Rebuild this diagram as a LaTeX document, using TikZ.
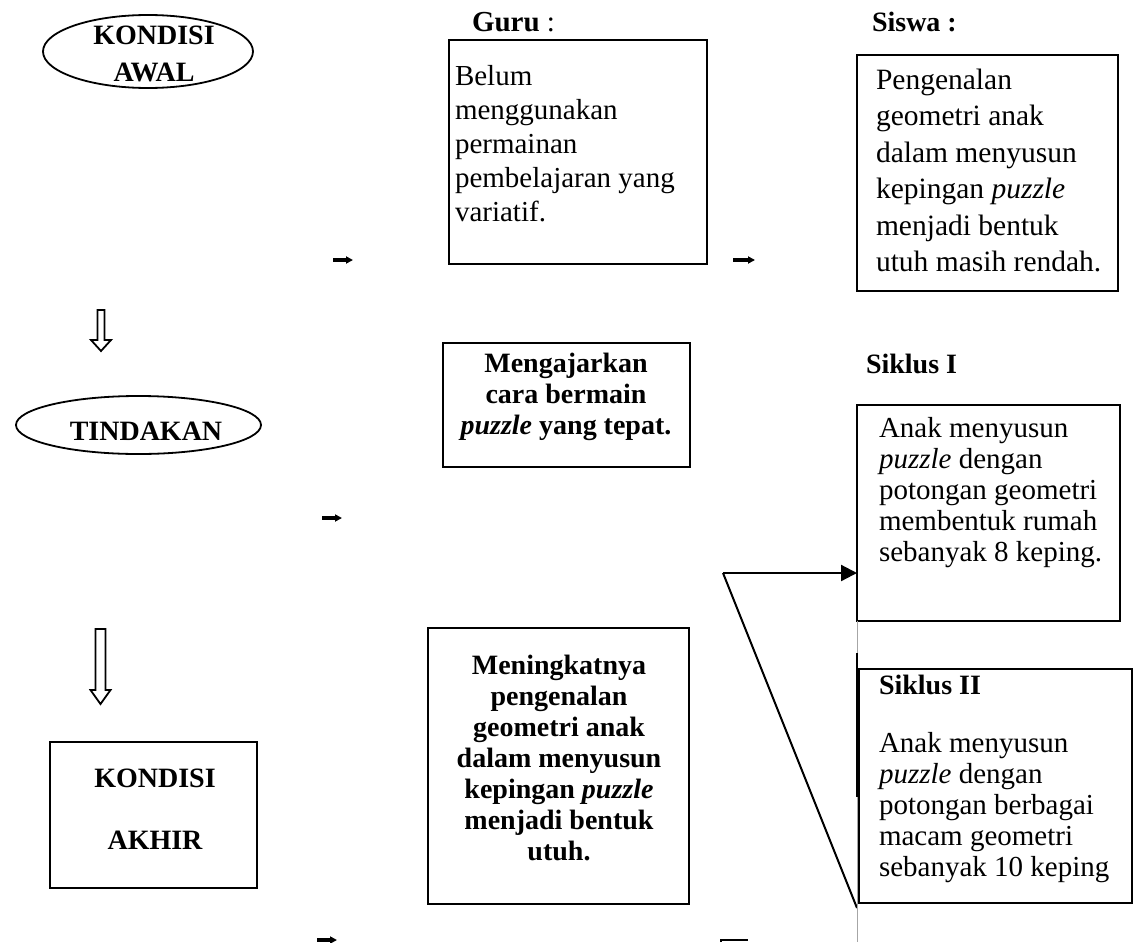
\documentclass[tikz,border=0pt]{standalone}
\usepackage{fontspec}
\setmainfont{Liberation Serif}
\usetikzlibrary{arrows.meta,shapes.geometric}
\begin{document}
\begin{tikzpicture}[x=1pt,y=-1pt,
  every node/.style={inner sep=0pt, outer sep=0pt},
  txt/.style={font=\fontsize{29}{31}\selectfont},
  gurufont/.style={font=\fontsize{29}{34}\selectfont},
  siswafont/.style={font=\fontsize{29.5}{36.5}\selectfont},
  lbl/.style={font=\fontsize{28}{31}\selectfont\bfseries},
  box/.style={draw, line width=1.8pt, rectangle},
  oval/.style={draw, line width=1.8pt, ellipse},
  smallarr/.style={line width=3.5pt, -{Triangle[length=7pt,width=7pt]}},
  hollow/.style={draw, line width=1.8pt, fill=white},
  link/.style={line width=2.2pt, -{Triangle[length=16pt,width=16pt]}}]
\useasboundingbox (0,0) rectangle (1139,942);

% ovals
\node[oval, minimum width=210pt, minimum height=73pt] (awal) at (148,51.5) {};
\node[lbl, align=center] (awaltxt) at (154,53.5) {KONDISI\\[6pt]AWAL};
\node[oval, minimum width=245pt, minimum height=58pt] (tindakan) at (138.5,425) {};
\node[lbl] (tindakantxt) at (146,431) {TINDAKAN};

% boxes
\node[box, minimum width=258pt, minimum height=224pt] (guru) at (578,152) {};
\node[box, minimum width=261pt, minimum height=236pt] (siswa) at (987.5,173) {};
\node[box, minimum width=247pt, minimum height=124pt] (ajar) at (566.5,405) {};
\node[box, minimum width=263pt, minimum height=216pt] (s1) at (988.5,513) {};
\node[box, minimum width=273pt, minimum height=234pt] (s2) at (995.5,786) {};
\node[box, minimum width=207pt, minimum height=146pt] (akhir) at (153.5,815) {};
\node[box, minimum width=261pt, minimum height=276pt] (naik) at (558.5,766) {};

% labels
\node[txt, anchor=west] (gurulbl) at (472,22) {\textbf{Guru} :};
\node[lbl, anchor=west] (siswalbl) at (872,22) {Siswa :};
\node[lbl, anchor=west] (s1lbl) at (866,364) {Siklus I};

% texts
\node[gurufont, anchor=north west, align=left] (gurutxt) at (455,65) {Belum\\menggunakan\\permainan\\pembelajaran yang\\variatif.};
\node[siswafont, anchor=north west, align=left] (siswatxt) at (876,69) {Pengenalan\\geometri anak\\dalam menyusun\\kepingan \textit{puzzle}\\menjadi bentuk\\utuh masih rendah.};
\node[lbl, anchor=north, align=center] (ajartxt) at (566,353) {Mengajarkan\\cara bermain\\\textit{puzzle} yang tepat.};
\node[txt, anchor=north west, align=left] (s1txt) at (879,417) {Anak menyusun\\\textit{puzzle} dengan\\potongan geometri\\membentuk rumah\\sebanyak 8 keping.};
\node[lbl, anchor=west] (s2lbl) at (879,685) {Siklus II};
\node[txt, anchor=north west, align=left] (s2txt) at (879,732) {Anak menyusun\\\textit{puzzle} dengan\\potongan berbagai\\macam geometri\\sebanyak 10 keping};
\node[lbl, anchor=north, align=center] (naiktxt) at (559,655) {Meningkatnya\\pengenalan\\geometri anak\\dalam menyusun\\kepingan \textit{puzzle}\\menjadi bentuk\\utuh.};
\node[lbl, align=center] (akhirtxt) at (155,809) {KONDISI\\[31pt]AKHIR};

% hollow arrows
\path[hollow] (97.5,310)--(104.5,310)--(104.5,340)--(111,340)--(101,351)--(91,340)--(97.5,340)--cycle;
\path[hollow] (95.5,629)--(105.5,629)--(105.5,690)--(110.5,690)--(100.5,704)--(90.5,690)--(95.5,690)--cycle;

% small arrows
\coordinate (a1s) at (333,260); \coordinate (a1e) at (353,260);
\coordinate (a2s) at (733,260); \coordinate (a2e) at (755,260);
\coordinate (a3s) at (322,518); \coordinate (a3e) at (342,518);
\coordinate (a4s) at (317,940); \coordinate (a4e) at (337,940);
\draw[smallarr] (a1s) -- (a1e);
\draw[smallarr] (a2s) -- (a2e);
\draw[smallarr] (a3s) -- (a3e);
\draw[smallarr] (a4s) -- (a4e);

% connector to Siklus I and diagonal
\coordinate (corner) at (723,573);
\coordinate (diagend) at (857,908);
\draw[link] (corner) -- (corner -| s1.west);
\draw[line width=2pt] (corner) -- (diagend);

% vertical lines at x=857
\draw[gray!70, line width=0.8pt] (s1.south west) -- (857,942);
\draw[line width=2pt] (857,653) -- (857,797);

% bottom fragment
\draw[line width=2pt] (721,942) -- (721,940) -- (748,940);
\end{tikzpicture}
\end{document}
